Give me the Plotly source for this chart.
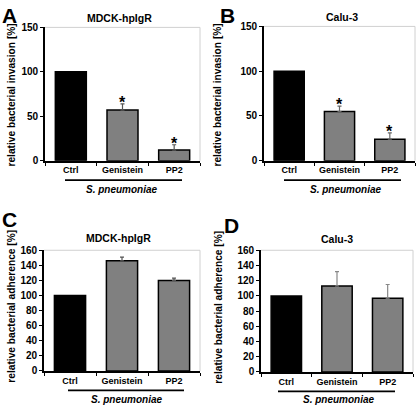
import plotly.graph_objects as go

W, H = 416, 412

categories = ["Ctrl", "Genistein", "PP2"]

# Panel A: MDCK-hpIgR invasion
a_values = [100, 57, 12]
a_err = [0, 7, 6]
# Panel B: Calu-3 invasion
b_values = [100, 55, 24]
b_err = [0, 6, 7]
# Panel C: MDCK-hpIgR adherence
c_values = [100, 146, 120]
c_err = [0, 5, 3]
# Panel D: Calu-3 adherence
d_values = [100, 113, 97]
d_err = [0, 19, 18]

a_stars = ["", "*", "*"]
b_stars = ["", "*", "*"]

inv_ticks = [0, 50, 100, 150]
adh_ticks = [0, 20, 40, 60, 80, 100, 120, 140, 160]

ctrl_color = "#000000"
treat_color = "#808080"
FONT = "Liberation Sans, Arial, sans-serif"


def px_x(p):
    return p / W


def px_y(p):
    return 1 - p / H


panels = [
    dict(ax="", vals=a_values, err=a_err, stars=a_stars, title="MDCK-hpIgR",
         ytitle="relative bacterial invasion [%]", ticks=inv_ticks, rng=[0, 150],
         xd=(45, 200), yd=(160, 23), ecol="#555555",
         title_pos=(120, 13), ytitle_pos=(12, 93), letter="A", letter_pos=(0, 0),
         line=(65, 182, 180), sp=(122, 190)),
    dict(ax="2", vals=b_values, err=b_err, stars=b_stars, title="Calu-3",
         ytitle="relative bacterial invasion [%]", ticks=inv_ticks, rng=[0, 150],
         xd=(264, 415), yd=(160, 22), ecol="#666666",
         title_pos=(342, 12), ytitle_pos=(218, 93), letter="B", letter_pos=(218, 0),
         line=(284, 401, 180), sp=(346, 190)),
    dict(ax="3", vals=c_values, err=c_err, stars=None, title="MDCK-hpIgR",
         ytitle="relative bacterial adherence [%]", ticks=adh_ticks, rng=[0, 160],
         xd=(44, 200), yd=(376, 252), ecol="#555555",
         title_pos=(118, 239), ytitle_pos=(12, 310), letter="C", letter_pos=(0, 210),
         line=(68, 184, 396), sp=(127, 405)),
    dict(ax="4", vals=d_values, err=d_err, stars=None, title="Calu-3",
         ytitle="relative bacterial adherence [%]", ticks=adh_ticks, rng=[0, 160],
         xd=(261, 413), yd=(377, 252), ecol="#888888",
         title_pos=(337, 240), ytitle_pos=(219, 311), letter="D", letter_pos=(222, 216),
         line=(278, 395, 397), sp=(339, 405)),
]

fig = go.Figure()
annotations = []
shapes = []
layout = {}

for p in panels:
    k = p["ax"]
    xname, yname = "x" + k, "y" + k
    # control bar (no error bar)
    fig.add_trace(go.Bar(
        x=categories[:1], y=p["vals"][:1], xaxis=xname, yaxis=yname,
        marker=dict(color=ctrl_color, line=dict(color="black", width=1.5)),
        width=0.6, showlegend=False, hoverinfo="skip",
    ))
    # treated bars with upward error bars
    fig.add_trace(go.Bar(
        x=categories[1:], y=p["vals"][1:], xaxis=xname, yaxis=yname,
        marker=dict(color=treat_color, line=dict(color="black", width=1.5)),
        width=0.6,
        error_y=dict(type="data", array=p["err"][1:], arrayminus=[0] * (len(categories) - 1),
                     symmetric=False, color=p["ecol"], thickness=1.2, width=2),
        showlegend=False, hoverinfo="skip",
    ))
    layout["xaxis" + k] = dict(
        domain=[px_x(p["xd"][0]), px_x(p["xd"][1])], anchor=yname,
        type="category", categoryorder="array", categoryarray=categories,
        range=[-0.5, len(categories) - 0.5],
        showline=True, linecolor="black", linewidth=1.6,
        ticks="outside", tickson="boundaries", ticklen=3, tickwidth=1.2, tickcolor="black",
        tickfont=dict(family=FONT, size=9, color="black", weight="bold"),
        showgrid=False, zeroline=False, fixedrange=True,
    )
    layout["yaxis" + k] = dict(
        domain=[px_y(p["yd"][0]), px_y(p["yd"][1])], anchor=xname,
        range=p["rng"], tickvals=p["ticks"],
        showline=True, linecolor="black", linewidth=1.6,
        ticks="outside", ticklen=3, tickwidth=1.2, tickcolor="black",
        tickfont=dict(family=FONT, size=10, color="black", weight="bold"),
        showgrid=False, zeroline=False, fixedrange=True,
    )
    shapes.append(dict(type="line", xref=xname + " domain", yref=yname + " domain",
                       x0=0, x1=1, y0=1, y1=1, line=dict(color="#d0d0d0", width=1)))
    shapes.append(dict(type="line", xref=xname + " domain", yref=yname + " domain",
                       x0=1, x1=1, y0=0, y1=1, line=dict(color="#d0d0d0", width=1)))
    x0, x1, yl = p["line"]
    shapes.append(dict(type="line", xref="paper", yref="paper",
                       x0=px_x(x0), x1=px_x(x1), y0=px_y(yl), y1=px_y(yl),
                       line=dict(color="black", width=1.8)))
    annotations.append(dict(text="<b><i>S. pneumoniae</i></b>", xref="paper", yref="paper",
                            x=px_x(p["sp"][0]), y=px_y(p["sp"][1]), showarrow=False,
                            xanchor="center", yanchor="middle",
                            font=dict(family=FONT, size=10, color="black")))
    annotations.append(dict(text="<b>" + p["title"] + "</b>", xref="paper", yref="paper",
                            x=px_x(p["title_pos"][0]), y=px_y(p["title_pos"][1]), showarrow=False,
                            xanchor="center", yanchor="middle",
                            font=dict(family=FONT, size=10.5, color="black")))
    annotations.append(dict(text="<b>" + p["ytitle"] + "</b>", xref="paper", yref="paper",
                            x=px_x(p["ytitle_pos"][0]), y=px_y(p["ytitle_pos"][1]), showarrow=False,
                            xanchor="center", yanchor="middle", textangle=-90,
                            font=dict(family=FONT, size=10.2, color="black")))
    annotations.append(dict(text="<b>" + p["letter"] + "</b>", xref="paper", yref="paper",
                            x=px_x(p["letter_pos"][0]), y=px_y(p["letter_pos"][1]), showarrow=False,
                            xanchor="left", yanchor="top", yshift=3,
                            font=dict(family=FONT, size=21, color="black")))
    if p["stars"]:
        for cat, v, e, s in zip(categories, p["vals"], p["err"], p["stars"]):
            if s:
                annotations.append(dict(text="<b>" + s + "</b>", xref=xname, yref=yname,
                                        x=cat, y=v + e, showarrow=False,
                                        xanchor="center", yanchor="bottom", yshift=-9,
                                        font=dict(family=FONT, size=16, color="black")))

fig.update_layout(
    width=W, height=H,
    margin=dict(l=0, r=0, t=0, b=0),
    paper_bgcolor="white", plot_bgcolor="white",
    font=dict(family=FONT, color="black"),
    barmode="overlay",
    annotations=annotations, shapes=shapes,
    **layout,
)

fig.write_html("out.html", config={"displayModeBar": False},
               post_script="document.body.style.margin='0';document.body.style.overflow='hidden';")
